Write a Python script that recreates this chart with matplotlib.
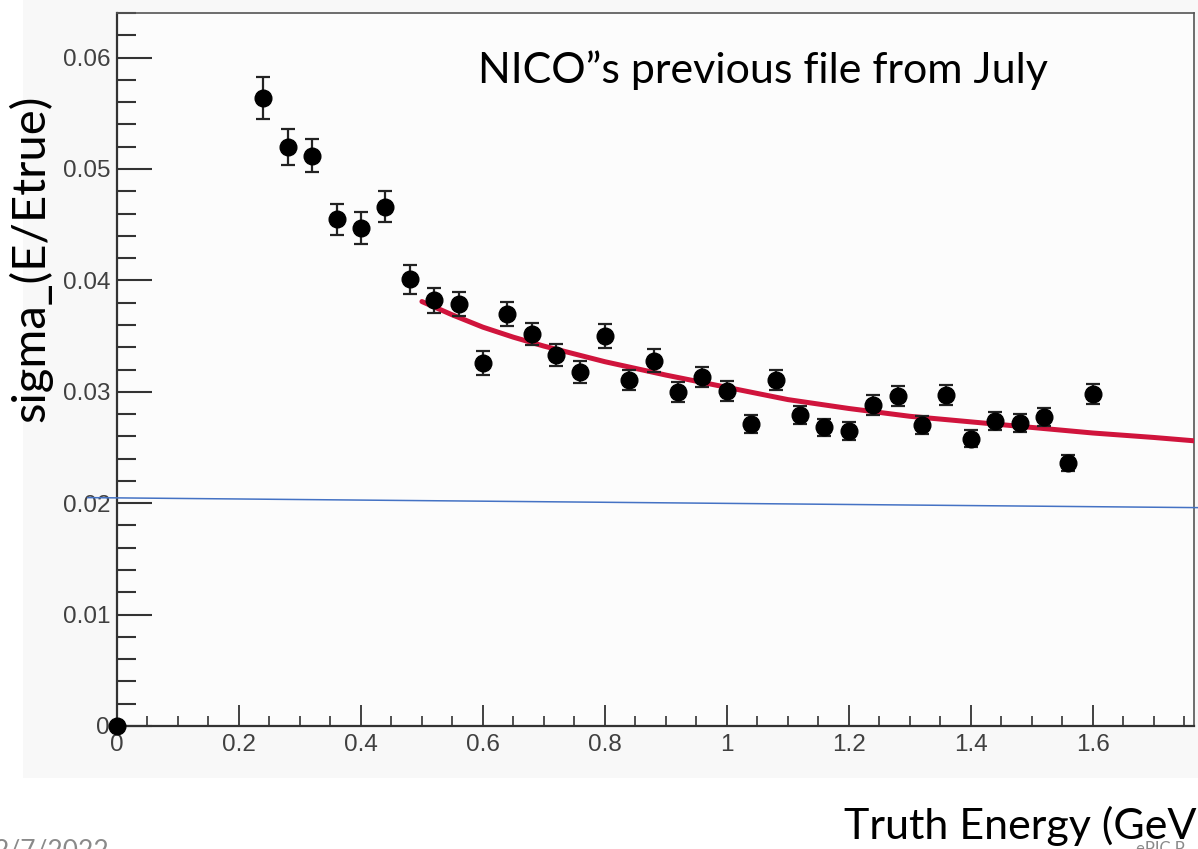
import numpy as np
import matplotlib
matplotlib.use("Agg")
import matplotlib.pyplot as plt
from matplotlib.patches import Rectangle
from matplotlib.ticker import MultipleLocator

# resolution points
energy = [0.0, 0.24, 0.28, 0.32, 0.36, 0.40, 0.44, 0.48, 0.52, 0.56, 0.60,
          0.64, 0.68, 0.72, 0.76, 0.80, 0.84, 0.88, 0.92, 0.96, 1.00,
          1.04, 1.08, 1.12, 1.16, 1.20, 1.24, 1.28, 1.32, 1.36, 1.40,
          1.44, 1.48, 1.52, 1.56, 1.60]
sigma = [0.0, 0.0564, 0.0520, 0.0512, 0.0455, 0.0447, 0.0466, 0.0401, 0.0382, 0.0379, 0.0326,
         0.0370, 0.0352, 0.0333, 0.0318, 0.0350, 0.0311, 0.0328, 0.0300, 0.0313, 0.0301,
         0.0271, 0.0311, 0.0279, 0.0268, 0.0265, 0.0288, 0.0296, 0.0270, 0.0297, 0.0258,
         0.0274, 0.0272, 0.0277, 0.0236, 0.0298]
sigma_err = [0.0, 0.0019, 0.0016, 0.0015, 0.0014, 0.0014, 0.0014, 0.0013, 0.0011, 0.0011, 0.0011,
             0.0011, 0.0010, 0.0010, 0.0010, 0.0011, 0.0009, 0.0010, 0.0009, 0.0009, 0.0009,
             0.0008, 0.0009, 0.0008, 0.0008, 0.0008, 0.0009, 0.0009, 0.0008, 0.0009, 0.0008,
             0.0008, 0.0008, 0.0008, 0.0007, 0.0009]

# fit curve (red)
fit_x = [0.50, 0.55, 0.60, 0.65, 0.70, 0.80, 0.90, 1.00, 1.10, 1.20, 1.30, 1.40, 1.50, 1.60, 1.70, 1.766]
fit_y = [0.0381, 0.0369, 0.0358, 0.0349, 0.0341, 0.0327, 0.0315, 0.0304, 0.0293, 0.0285,
         0.0278, 0.0273, 0.0268, 0.0263, 0.0259, 0.0256]

# blue line drawn over the slide
blue_x = [-0.048, 1.775]
blue_y = [0.0205, 0.0196]

xticks = [0, 0.2, 0.4, 0.6, 0.8, 1.0, 1.2, 1.4, 1.6]
xtick_labels = ["0", "0.2", "0.4", "0.6", "0.8", "1", "1.2", "1.4", "1.6"]
yticks = [0, 0.01, 0.02, 0.03, 0.04, 0.05, 0.06]
ytick_labels = ["0", "0.01", "0.02", "0.03", "0.04", "0.05", "0.06"]

W, H = 1198, 849
fig = plt.figure(figsize=(W / 100, H / 100), dpi=100)
fig.patch.set_facecolor("white")

# ROOT canvas background
fig.patches.append(Rectangle((23 / W, (H - 778) / H), 1 - 23 / W, 778 / H,
                             transform=fig.transFigure, facecolor="#f8f8f8",
                             edgecolor="none", zorder=-5))

ax = fig.add_axes([117 / W, (H - 726) / H, (1194 - 117) / W, (726 - 13) / H])
ax.set_facecolor("#fcfcfc")

ax.plot(fit_x, fit_y, color="#d0143c", lw=3.6, zorder=3, solid_capstyle="round")
ax.errorbar(energy, sigma, yerr=sigma_err, fmt="o", color="black", ms=12,
            ecolor="#222222", elinewidth=1.6, capsize=5, capthick=1.6, zorder=4,
            clip_on=False)
ax.plot(blue_x, blue_y, color="#4472c4", lw=1.1, zorder=5, clip_on=False)

ax.set_xlim(0, 1.766)
ax.set_ylim(0, 0.064)

for s in ["left", "bottom"]:
    ax.spines[s].set_linewidth(1.6)
    ax.spines[s].set_color("#333333")
for s in ["top", "right"]:
    ax.spines[s].set_linewidth(1.2)
    ax.spines[s].set_color("#555555")

ax.set_xticks(xticks, xtick_labels, family="Liberation Sans")
ax.set_yticks(yticks, ytick_labels, family="Liberation Sans")
ax.xaxis.set_minor_locator(MultipleLocator(0.05))
ax.yaxis.set_minor_locator(MultipleLocator(0.002))

ax.tick_params(axis="y", which="major", direction="in", length=25, width=1.5,
               color="#333333", pad=5, labelsize=17.5, labelcolor="#404040")
ax.tick_params(axis="y", which="minor", direction="in", length=13.5, width=1.5,
               color="#333333")
ax.tick_params(axis="x", which="major", direction="in", length=15, width=1.3,
               color="#333333", pad=6, labelsize=17.5, labelcolor="#404040")
ax.tick_params(axis="x", which="minor", direction="in", length=7, width=1.2,
               color="#333333")

slide_font = ["Lato", "DejaVu Sans"]
fig.text(763 / W, 1 - 70 / H, "NICO\u201ds previous file from July", family=slide_font,
         fontsize=31, ha="center", va="center", color="black")
fig.text(30 / W, 1 - 258 / H, "sigma_(E/Etrue)", family=slide_font, fontsize=34,
         rotation=90, ha="center", va="center", color="black")
fig.text(1197 / W, 1 - 826 / H, "Truth Energy (GeV", family=slide_font, fontsize=31,
         ha="right", va="center", color="black")
fig.text(1136 / W, 1 - 841 / H, "ePIC P", family=slide_font, fontsize=12,
         ha="left", va="top", color="#8a8a8a")
fig.text(-6 / W, 1 - 838 / H, "2/7/2022", family=slide_font, fontsize=19,
         ha="left", va="top", color="#8a8a8a")

fig.savefig("out.png", dpi=100)
